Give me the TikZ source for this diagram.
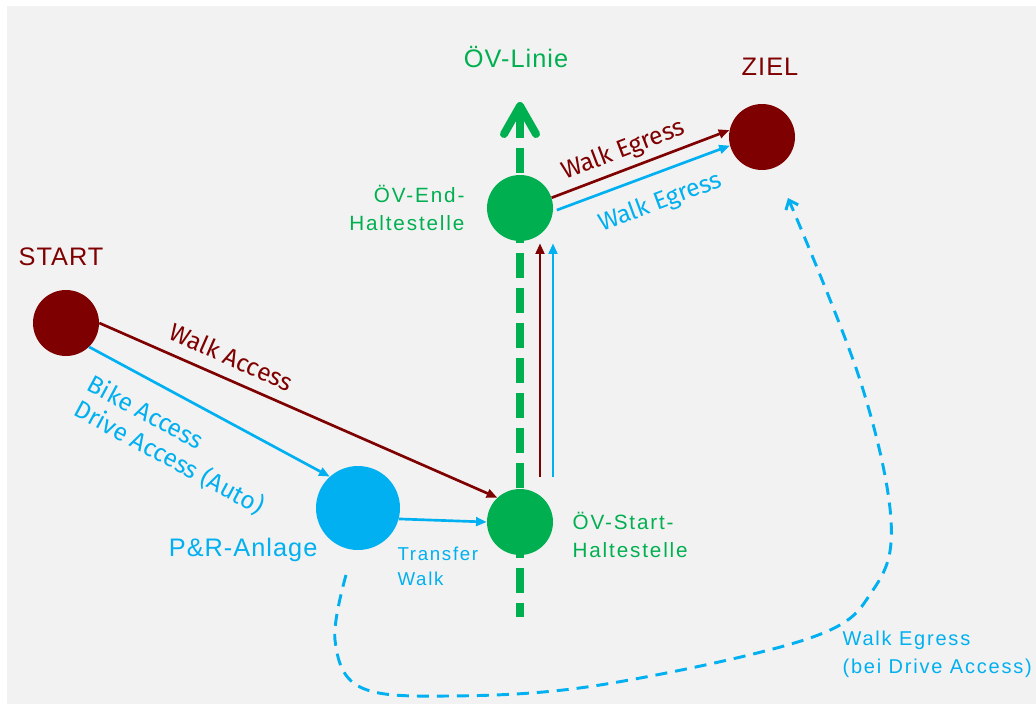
\documentclass[tikz,border=0pt]{standalone}
\usepackage{fontspec}
\setmainfont{Liberation Sans}[LetterSpace=4]
\newfontfamily\haltfont{Liberation Sans}[LetterSpace=9]
\newfontfamily\wegfont{Fira Sans}
\usetikzlibrary{arrows.meta, positioning}
\definecolor{zielrot}{HTML}{7F0000}
\definecolor{oevgruen}{HTML}{00B050}
\definecolor{prblau}{HTML}{00B0F0}
\definecolor{hintergrund}{HTML}{F2F2F2}

\begin{document}
\begin{tikzpicture}[x=0.75pt, y=-0.75pt,
    punkt/.style={circle, inner sep=0pt, minimum size=49.5pt},
    titel/.style={font=\fontsize{19}{23}\selectfont, inner sep=1pt},
    halt/.style={font=\haltfont\fontsize{15.5}{21.5}\selectfont, text=oevgruen, inner sep=1pt},
    weglbl/.style={font=\wegfont\fontsize{18.5}{21.5}\selectfont, sloped, inner sep=1pt},
    pfeil/.style={-{Triangle[length=8pt, width=6.5pt]}, line width=2pt}]
  \useasboundingbox (0,0) rectangle (1036,704);
  \fill[hintergrund] (7,6) rectangle (1036,704);

  % OEV-Linie (hinter den Haltestellen)
  \coordinate (lu) at (520,617);
  \coordinate (lo) at (520,102);
  \draw[oevgruen, line width=6pt, dash pattern=on 18.75pt off 7.5pt, dash phase=8.25pt,
    -{Straight Barb[round, length=21pt, width=24pt]}] (lu) -- (lo);

  % Punkte
  \node[punkt, fill=zielrot] (start) at (66,323) {};
  \node[punkt, fill=prblau, minimum size=63pt] (pr) at (358,508) {};
  \node[punkt, fill=oevgruen] (hsa) at (520,522) {};
  \node[punkt, fill=oevgruen] (hse) at (520,208) {};
  \node[punkt, fill=zielrot] (ziel) at (762,137) {};

  % Beschriftungen
  \node[titel, text=zielrot] (startlbl) at (61,257) {START};
  \node[titel, text=zielrot] (ziellbl) at (770,67) {ZIEL};
  \node[titel, text=oevgruen] (linielbl) at (516,57) {ÖV-Linie};
  \node[halt, align=right, anchor=east] (hselbl) at (466,208) {ÖV-End-\\Haltestelle};
  \node[halt, align=left, anchor=west] (hsalbl) at (571,535) {ÖV-Start-\\Haltestelle};
  \node[titel, text=prblau, anchor=east] (prlbl) at (319,550) {P\&R-Anlage};
  \node[font=\haltfont\fontsize{14}{18.75}\selectfont, text=prblau, align=left, anchor=west, inner sep=1pt] (twlbl) at (396,566) {Transfer\\Walk};
  \node[halt, font=\haltfont\fontsize{15}{21}\selectfont, text=prblau, align=left, anchor=west] (eglbl) at (841,654) {Walk Egress\\(bei Drive Access)};

  % Wege
  \draw[pfeil, zielrot] (start.0) -- node[weglbl, above=7.5pt, pos=0.31] {Walk Access} (hsa.133);
  \draw[pfeil, prblau] (start.-46) -- node[weglbl, below=13pt, pos=0.45, align=left] {Bike Access\\Drive Access (Auto)} (pr.132);
  \draw[pfeil, prblau] (pr.-15) -- (hsa.180);
  \draw[pfeil, zielrot] ([xshift=15pt, yshift=9pt]hsa.north) -- ([xshift=15pt, yshift=-1.5pt]hse.south);
  \draw[pfeil, prblau] ([xshift=24.75pt, yshift=9pt]hsa.north) -- ([xshift=24.75pt, yshift=-1.5pt]hse.south);
  \draw[pfeil, zielrot] (hse.18) -- node[weglbl, above=3pt, pos=0.44] {Walk Egress} (ziel.168);
  \draw[pfeil, prblau, shorten <=3pt] (hse.-6) -- node[weglbl, below=11pt, pos=0.55] {Walk Egress} (ziel.195);

  % Walk Egress bei Drive Access
  \coordinate (egs) at (346,575);
  \coordinate (ege) at (788,198);
  \draw[prblau, line width=2.2pt, dash pattern=on 9pt off 6pt, -{Straight Barb[length=6pt, width=10pt]}]
    plot[smooth, tension=0.6] coordinates {(egs) (335,640) (360,687) (447,696) (600,685) (810,638) (873,590) (891,520) (860,380) (ege)};
\end{tikzpicture}
\end{document}
